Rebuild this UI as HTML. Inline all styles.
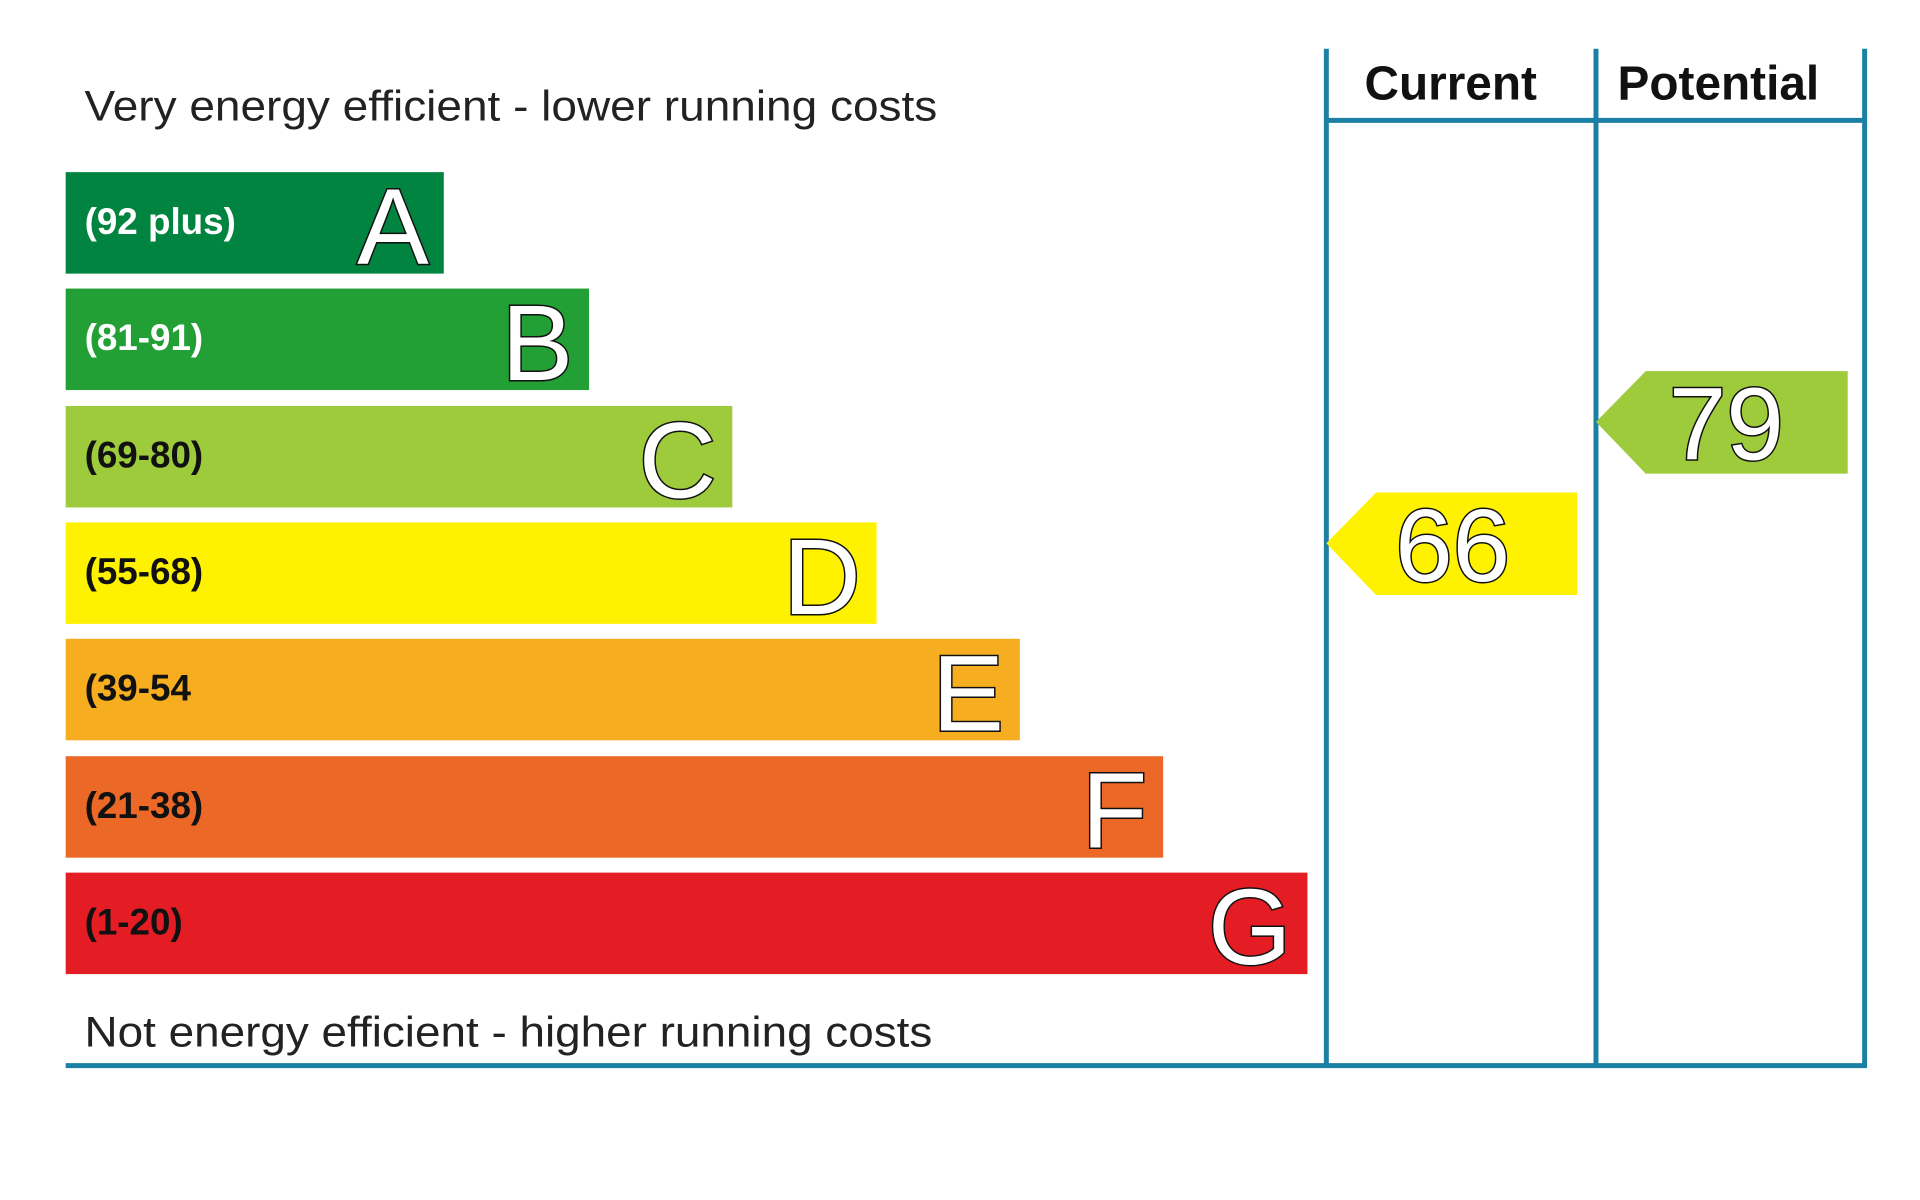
<!DOCTYPE html>
<html><head><meta charset="utf-8"><style>
html,body{margin:0;padding:0;background:#fff;}
svg{display:block;}
</style></head><body>
<svg width="1920" height="1200" viewBox="0 0 1920 1200" xmlns="http://www.w3.org/2000/svg">
<g font-family="Liberation Sans, sans-serif" transform="scale(0.995)">
<text x="85" y="121" font-size="43" fill="#222" textLength="857" lengthAdjust="spacingAndGlyphs">Very energy efficient - lower running costs</text>
<text x="85" y="1052" font-size="43" fill="#222" textLength="852" lengthAdjust="spacingAndGlyphs">Not energy efficient - higher running costs</text>

<g stroke="#1b80a3" stroke-width="5" fill="none">
<line x1="1333" y1="49" x2="1333" y2="1073"/>
<line x1="1604" y1="49" x2="1604" y2="1073"/>
<line x1="1874" y1="49" x2="1874" y2="1073"/>
<line x1="1333" y1="121" x2="1874" y2="121"/>
<line x1="66" y1="1071" x2="1876" y2="1071"/>
</g>
<text x="1458" y="100" font-size="48" font-weight="bold" text-anchor="middle" fill="#111">Current</text>
<text x="1727" y="100" font-size="48" font-weight="bold" text-anchor="middle" fill="#111">Potential</text>

<g font-size="37" font-weight="bold">
<rect x="66" y="173" width="380" height="102" fill="#00843f"/>
<text x="85" y="235" fill="#fff">(92 plus)</text>
<rect x="66" y="290" width="526" height="102" fill="#23a035"/>
<text x="85" y="352" fill="#fff">(81-91)</text>
<rect x="66" y="408" width="670" height="102" fill="#9dcb3c"/>
<text x="85" y="470" fill="#111">(69-80)</text>
<rect x="66" y="525" width="815" height="102" fill="#fff200"/>
<text x="85" y="587" fill="#111">(55-68)</text>
<rect x="66" y="642" width="959" height="102" fill="#f6ae20"/>
<text x="85" y="704" fill="#111">(39-54</text>
<rect x="66" y="760" width="1103" height="102" fill="#ec6826"/>
<text x="85" y="822" fill="#111">(21-38)</text>
<rect x="66" y="877" width="1248" height="102" fill="#e31d23"/>
<text x="85" y="939" fill="#111">(1-20)</text>
</g>

<g font-size="108" fill="#fff" stroke="#111" stroke-width="3" text-anchor="end" paint-order="stroke">
<text x="431" y="265">A</text>
<text x="576" y="382">B</text>
<text x="720" y="500">C</text>
<text x="865" y="617">D</text>
<text x="1009" y="734">E</text>
<text x="1153" y="852">F</text>
<text x="1298" y="969">G</text>
</g>

<polygon points="1333,546 1383,495 1585,495 1585,598 1383,598" fill="#fff200"/>
<polygon points="1604,424 1654,373 1857,373 1857,476 1654,476" fill="#9dcb3c"/>
<g font-size="104" fill="#fff" stroke="#111" stroke-width="3" text-anchor="middle" paint-order="stroke">
<text x="1460" y="584">66</text>
<text x="1735" y="462">79</text>
</g>
</g>
</svg>
</body></html>
